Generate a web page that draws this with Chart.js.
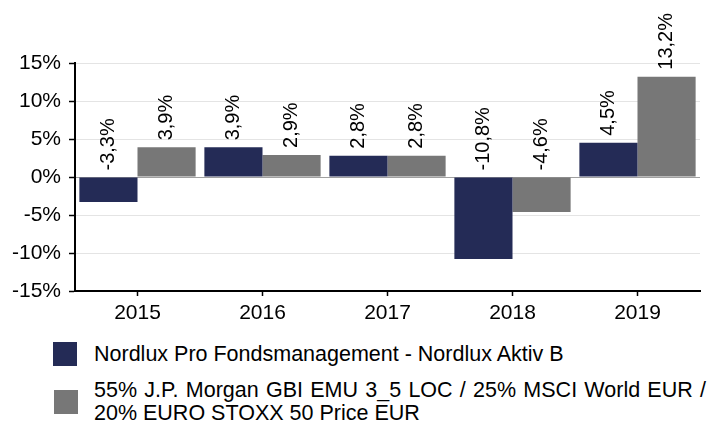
<!DOCTYPE html>
<html>
<head>
<meta charset="utf-8">
<script src="https://cdn.jsdelivr.net/npm/chart.js@4"></script>
<style>
    body { margin: 0; background: #fff; font-family: "Liberation Sans", Arial, sans-serif; }
    #wrap { position: relative; width: 715px; height: 424px; }
    #c { position: absolute; left: 0; top: 0; }
    .lg-box { position: absolute; width: 24px; height: 24px; }
    .lg-text { position: absolute; left: 94px; font-size: 21.5px; line-height: 23px; color: #000; }
</style>
</head>
<body>
<div id="wrap">
    <canvas id="c" width="715" height="330"></canvas>
    <div class="lg-box" id="box1" style="left:53px; top:342px;"></div>
    <div class="lg-text" id="txt1" style="top:343px;"></div>
    <div class="lg-box" id="box2" style="left:54px; top:390px;"></div>
    <div class="lg-text" id="txt2" style="top:379px; width:612px;"></div>
</div>
<script>
const years = ["2015", "2016", "2017", "2018", "2019"];
const fund = [-3.3, 3.9, 2.8, -10.8, 4.5];
const benchmark = [3.9, 2.9, 2.8, -4.6, 13.2];
const fundName = "Nordlux Pro Fondsmanagement - Nordlux Aktiv B";
const benchName = ["55% J.P. Morgan GBI EMU 3_5 LOC / 25% MSCI World EUR /", "20% EURO STOXX 50 Price EUR"];
const yTicks = [-15, -10, -5, 0, 5, 10, 15];

const blue = "#242b56";
const grey = "#777777";
const font = "Liberation Sans, Arial, sans-serif";

const fmt = (v) => String(v).replace(".", ",") + "%";

// value labels, rotated, above the bar (or above zero for negatives)
const barLabels = {
    id: "barLabels",
    afterDatasetsDraw(chart) {
        const ctx = chart.ctx;
        ctx.save();
        ctx.font = "20px " + font;
        ctx.fillStyle = "#000";
        ctx.textAlign = "left";
        ctx.textBaseline = "middle";
        chart.data.datasets.forEach((ds, i) => {
            chart.getDatasetMeta(i).data.forEach((bar, j) => {
                const y = Math.min(bar.y, bar.base) - 7;
                ctx.save();
                ctx.translate(bar.x, y);
                ctx.rotate(-Math.PI / 2);
                ctx.fillText(fmt(ds.data[j]), 0, 0);
                ctx.restore();
            });
        });
        ctx.restore();
    },
};

const chart = new Chart(document.getElementById("c"), {
    type: "bar",
    data: {
        labels: years,
        datasets: [
            {
                label: fundName,
                data: fund,
                backgroundColor: blue,
                borderWidth: 0,
                categoryPercentage: 0.93,
                barPercentage: 1,
            },
            {
                label: benchName.join(" "),
                data: benchmark,
                backgroundColor: grey,
                borderWidth: 0,
                categoryPercentage: 0.93,
                barPercentage: 1,
            },
        ],
    },
    options: {
        responsive: false,
        animation: false,
        layout: {
            padding: { left: 0, right: 15, top: 63, bottom: 0 },
        },
        plugins: {
            legend: { display: false },
            tooltip: { enabled: false },
        },
        scales: {
            x: {
                afterFit: (s) => { s.height = 39; },
                grid: {
                    offset: false,
                    drawOnChartArea: false,
                    tickLength: 5,
                    tickColor: "#000",
                    tickWidth: 1.5,
                },
                border: { color: "#000", width: 2 },
                ticks: {
                    color: "#000",
                    padding: 5,
                    font: { size: 21, family: font },
                },
            },
            y: {
                min: -15,
                max: 15,
                afterFit: (s) => { s.width = 75; },
                afterBuildTicks: (s) => { s.ticks = yTicks.map((v) => ({ value: v })); },
                grid: {
                    color: (c) => (c.tick && c.tick.value === 0 ? "#a0a0a0" : "#e4e4e4"),
                    lineWidth: 1,
                    tickLength: 6,
                    tickColor: "#000",
                    tickWidth: 1.5,
                },
                border: { color: "#000", width: 2 },
                ticks: {
                    color: "#000",
                    padding: 8,
                    font: { size: 21, family: font },
                    callback: (v) => v + "%",
                },
            },
        },
    },
    plugins: [barLabels],
});

// legend in html, built from the datasets
document.getElementById("box1").style.background = blue;
document.getElementById("box2").style.background = grey;
document.getElementById("txt1").textContent = fundName;
const t2 = document.getElementById("txt2");
const l1 = document.createElement("div");
l1.textContent = benchName[0];
l1.style.textAlign = "justify";
l1.style.textAlignLast = "justify";
const l2 = document.createElement("div");
l2.textContent = benchName[1];
t2.appendChild(l1);
t2.appendChild(l2);
</script>
</body>
</html>
